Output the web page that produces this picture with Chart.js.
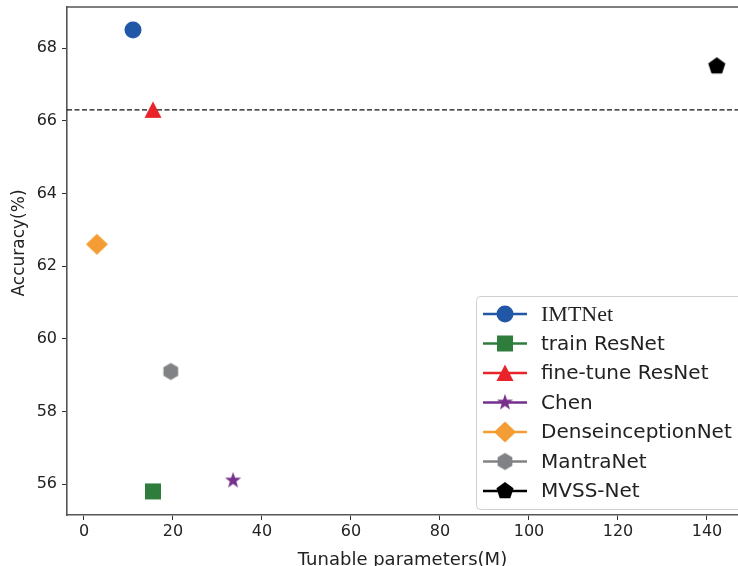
<!DOCTYPE html>
<html><head><meta charset="utf-8">
<script src="https://cdn.jsdelivr.net/npm/chart.js@4/dist/chart.umd.min.js"></script>
<style>html,body{margin:0;padding:0;background:#fff;overflow:hidden}</style>
</head><body>
<canvas id="c" width="738" height="566"></canvas>
<script>
// ---- data ----
const methods = ['IMTNet','train ResNet','fine-tune ResNet','Chen','DenseinceptionNet','MantraNet','MVSS-Net'];
const params = [11.0, 15.5, 15.5, 33.5, 2.9, 19.5, 142.2];
const accuracy = [68.5, 55.8, 66.3, 56.1, 62.6, 59.1, 67.5];
const baselineAcc = 66.3;
const xTicks = [0,20,40,60,80,100,120,140];
const yTicks = [56,58,60,62,64,66,68];
const xRange = [-3.82, 146.97];
const yRange = [55.15, 69.13];
const xTitle = 'Tunable parameters(M)';
const yTitle = 'Accuracy(%)';

// ---- styles ----
const colors = ['#2257a8','#2e7d3c','#e8242a','#76308c','#f59d35','#808285','#000000'];
const shapes = ['circle','square','triangle','star','diamond','hexagon','pentagon'];

function makeMarker(shape, color){
  const S = 28, c = document.createElement('canvas');
  c.width = S; c.height = S;
  const g = c.getContext('2d');
  const cx = S/2, cy = S/2;
  g.fillStyle = color;
  g.beginPath();
  const poly = (n, r, rot, inner) => {
    const k = inner ? n*2 : n;
    for (let i=0;i<k;i++){
      const rr = inner ? (i%2===0 ? r : r*inner) : r;
      const a = rot + i*2*Math.PI/k;
      const px = cx + rr*Math.sin(a), py = cy - rr*Math.cos(a);
      i===0 ? g.moveTo(px,py) : g.lineTo(px,py);
    }
    g.closePath();
  };
  switch(shape){
    case 'circle': g.arc(cx,cy,8.5,0,Math.PI*2); break;
    case 'square': g.rect(cx-8,cy-8,16,16); break;
    case 'triangle': g.moveTo(cx,cy-8.5); g.lineTo(cx+8.5,cy+8); g.lineTo(cx-8.5,cy+8); g.closePath(); break;
    case 'star': poly(5,8.5,0,0.4); break;
    case 'diamond': g.moveTo(cx,cy-10.5); g.lineTo(cx+11,cy); g.lineTo(cx,cy+10.5); g.lineTo(cx-11,cy); g.closePath(); break;
    case 'hexagon': poly(6,8.5,0); break;
    case 'pentagon': poly(5,9,0); break;
  }
  g.fill();
  return c;
}
const markerImgs = shapes.map((s,i)=>makeMarker(s,colors[i]));

const datasets = methods.map((m,i)=>({
  type:'scatter',
  label:m,
  data:[{x:params[i], y:accuracy[i]}],
  pointStyle:markerImgs[i],
  backgroundColor:colors[i],
  borderColor:colors[i],
  order:i
}));
datasets.push({
  type:'line',
  label:'baseline',
  data:[{x:xRange[0],y:baselineAcc},{x:xRange[1],y:baselineAcc}],
  borderColor:'#111',
  borderWidth:1.2,
  borderDash:[5,2.5],
  pointRadius:0,
  fill:false,
  order:20
});

const frameAndLegend = {
  id:'frameAndLegend',
  afterDraw(chart){
    const ctx = chart.ctx, a = chart.chartArea;
    ctx.save();
    // top frame
    ctx.strokeStyle = '#555'; ctx.lineWidth = 1.6;
    ctx.beginPath(); ctx.moveTo(a.left, a.top); ctx.lineTo(a.right, a.top); ctx.stroke();
    // y title
    ctx.save();
    ctx.translate(20, 243);
    ctx.rotate(-Math.PI/2);
    ctx.fillStyle = '#222';
    ctx.font = '17px "DejaVu Sans"';
    ctx.textAlign = 'center'; ctx.textBaseline = 'middle';
    ctx.fillText(yTitle, 0, 0);
    ctx.restore();
    // legend box
    const bx = 476.5, by = 296.5, bw = 300, bh = 213, r = 4;
    ctx.fillStyle = 'rgba(255,255,255,0.95)';
    ctx.strokeStyle = '#d0d0d0'; ctx.lineWidth = 1;
    ctx.beginPath();
    ctx.moveTo(bx+r,by); ctx.lineTo(bx+bw,by); ctx.lineTo(bx+bw,by+bh);
    ctx.lineTo(bx+r,by+bh); ctx.arcTo(bx,by+bh,bx,by+bh-r,r);
    ctx.lineTo(bx,by+r); ctx.arcTo(bx,by,bx+r,by,r); ctx.closePath();
    ctx.fill(); ctx.stroke();
    methods.forEach((m,i)=>{
      const y = 314 + i*29.5;
      ctx.strokeStyle = colors[i]; ctx.lineWidth = 2.5;
      ctx.beginPath(); ctx.moveTo(483,y); ctx.lineTo(527,y); ctx.stroke();
      ctx.drawImage(markerImgs[i], 505-14, y-14);
      ctx.fillStyle = '#222';
      ctx.textBaseline = 'middle';
      ctx.textAlign = 'left';
      ctx.font = i===0 ? '22px "Liberation Serif"' : '20px "DejaVu Sans"';
      ctx.fillText(m, 541, y+1);
    });
    ctx.restore();
  }
};

new Chart(document.getElementById('c'), {
  data:{datasets},
  options:{
    responsive:false,
    animation:false,
    layout:{padding:{top:7,right:0,bottom:0,left:0}, autoPadding:false},
    plugins:{legend:{display:false}, tooltip:{enabled:false}},
    scales:{
      x:{
        type:'linear', position:'bottom', min:xRange[0], max:xRange[1],
        afterBuildTicks:s=>{s.ticks = xTicks.map(v=>({value:v}));},
        afterFit:s=>{s.height = 51; s.paddingLeft = 0; s.paddingRight = 0;},
        grid:{drawOnChartArea:false, drawTicks:true, tickLength:5, color:'#333', lineWidth:1},
        border:{color:'#555', width:1.6},
        ticks:{font:{family:'"DejaVu Sans"', size:16}, color:'#222', padding:2, maxRotation:0, autoSkip:false},
        title:{display:true, text:xTitle, font:{family:'"DejaVu Sans"', size:18}, color:'#222', padding:{top:0,bottom:-5}}
      },
      y:{
        type:'linear', position:'left', min:yRange[0], max:yRange[1],
        afterBuildTicks:s=>{s.ticks = yTicks.map(v=>({value:v}));},
        afterFit:s=>{s.width = 67; s.paddingTop = 0; s.paddingBottom = 0;},
        grid:{drawOnChartArea:false, drawTicks:true, tickLength:5, color:'#333', lineWidth:1},
        border:{color:'#555', width:1.6},
        ticks:{font:{family:'"DejaVu Sans"', size:16}, color:'#222', padding:5},
        title:{display:false}
      }
    }
  },
  plugins:[frameAndLegend]
});
</script>
</body></html>
